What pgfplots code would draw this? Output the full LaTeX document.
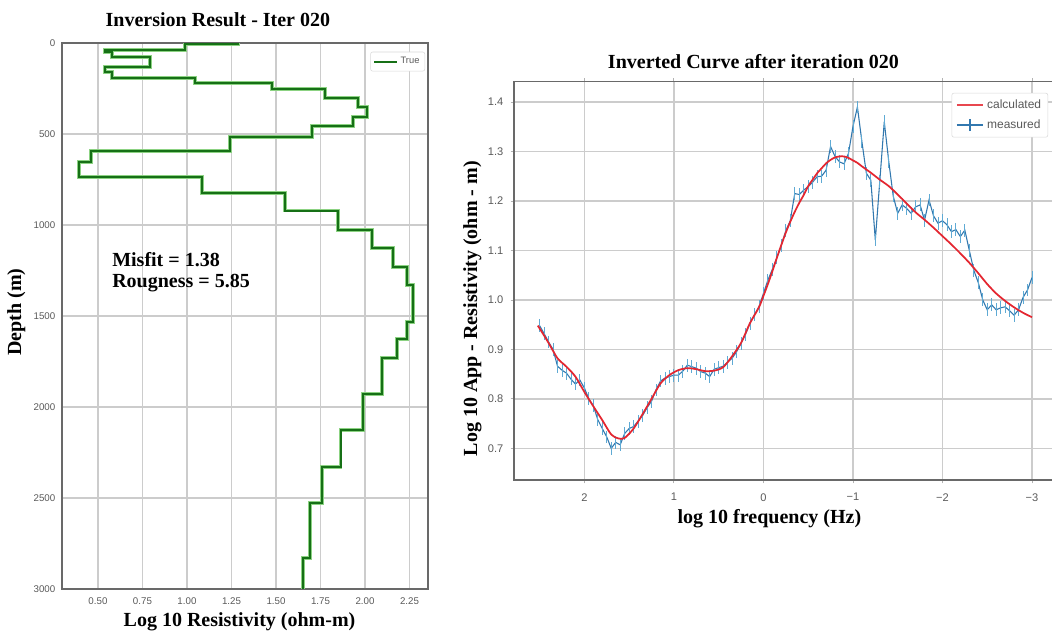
\documentclass[border=0pt]{standalone}
\usepackage{fontspec}
\setmainfont{Liberation Serif}
\setsansfont{Liberation Sans}
\usepackage{pgfplots}
\pgfplotsset{compat=1.18}
\usepackage{pgfplotstable}

\definecolor{stepgreen}{RGB}{22,112,22}
\definecolor{halogreen}{RGB}{140,210,130}
\definecolor{measblue}{RGB}{50,120,175}
\definecolor{errblue}{RGB}{95,170,212}
\definecolor{calcred}{RGB}{228,38,48}
\definecolor{gridgray}{RGB}{204,204,204}
\definecolor{ticktext}{RGB}{90,90,90}
\definecolor{spine}{RGB}{105,105,105}

% layered resistivity model: corner points of the step profile
\pgfplotstableread{
res depth
1.287 0
1.287 7
0.989 7
0.989 38
0.539 38
0.539 50
0.577 50
0.577 75
0.792 75
0.792 130
0.539 130
0.539 158
0.577 158
0.577 194
1.045 194
1.045 218
1.476 218
1.476 254
1.775 254
1.775 301
1.962 301
1.962 350
2.010 350
2.010 405
1.934 405
1.934 456
1.701 456
1.701 515
1.242 515
1.242 593
0.459 593
0.459 655
0.395 655
0.395 735
1.083 735
1.083 826
1.551 826
1.551 921
1.850 921
1.850 1027
2.038 1027
2.038 1128
2.156 1128
2.156 1229
2.234 1229
2.234 1330
2.268 1330
2.268 1531
2.234 1531
2.234 1628
2.181 1628
2.181 1732
2.094 1732
2.094 1929
1.987 1929
1.987 2126
1.863 2126
1.863 2328
1.760 2328
1.760 2529
1.691 2529
1.691 2831
1.653 2831
1.653 3000
}\modeltable

% forward response of the model
\pgfplotstableread{
f rho
2.52 0.948
2.45 0.928
2.40 0.913
2.35 0.897
2.30 0.882
2.25 0.873
2.20 0.865
2.10 0.845
2.00 0.814
1.90 0.785
1.80 0.757
1.70 0.728
1.62 0.720
1.55 0.721
1.45 0.740
1.35 0.769
1.25 0.800
1.15 0.831
1.05 0.848
0.95 0.858
0.85 0.862
0.75 0.860
0.65 0.856
0.55 0.857
0.45 0.864
0.35 0.886
0.25 0.913
0.15 0.953
0.05 0.985
0.00 1.008
-0.05 1.032
-0.10 1.058
-0.15 1.085
-0.20 1.111
-0.25 1.136
-0.30 1.158
-0.35 1.178
-0.40 1.196
-0.45 1.212
-0.50 1.230
-0.55 1.243
-0.60 1.256
-0.65 1.266
-0.70 1.276
-0.75 1.283
-0.80 1.288
-0.85 1.290
-0.90 1.290
-0.95 1.287
-1.00 1.282
-1.05 1.277
-1.10 1.270
-1.20 1.257
-1.30 1.243
-1.40 1.230
-1.50 1.213
-1.60 1.195
-1.70 1.177
-1.80 1.162
-1.90 1.146
-2.00 1.129
-2.10 1.112
-2.20 1.094
-2.30 1.075
-2.40 1.054
-2.50 1.032
-2.60 1.013
-2.70 0.998
-2.80 0.985
-2.90 0.974
-3.00 0.965
}\calctable

% observed apparent resistivity
\pgfplotstableread{
f rho
2.50 0.948
2.45 0.932
2.40 0.915
2.35 0.900
2.30 0.866
2.25 0.858
2.20 0.852
2.15 0.840
2.10 0.830
2.05 0.838
2.00 0.822
1.95 0.800
1.90 0.786
1.85 0.758
1.80 0.740
1.75 0.723
1.70 0.700
1.65 0.712
1.60 0.707
1.55 0.730
1.50 0.740
1.45 0.744
1.40 0.755
1.35 0.766
1.30 0.782
1.25 0.795
1.20 0.818
1.15 0.836
1.10 0.842
1.05 0.845
1.00 0.848
0.95 0.848
0.90 0.856
0.85 0.868
0.80 0.865
0.75 0.862
0.70 0.855
0.65 0.852
0.60 0.845
0.55 0.860
0.50 0.863
0.45 0.866
0.40 0.874
0.35 0.882
0.30 0.895
0.25 0.912
0.20 0.930
0.15 0.953
0.10 0.970
0.05 0.986
0.00 1.013
-0.05 1.040
-0.10 1.062
-0.15 1.085
-0.20 1.110
-0.25 1.140
-0.30 1.160
-0.35 1.215
-0.40 1.213
-0.45 1.222
-0.50 1.229
-0.55 1.238
-0.60 1.249
-0.65 1.250
-0.70 1.262
-0.75 1.310
-0.80 1.290
-0.85 1.279
-0.90 1.275
-0.95 1.296
-1.00 1.350
-1.05 1.390
-1.10 1.320
-1.15 1.256
-1.20 1.242
-1.25 1.121
-1.30 1.240
-1.35 1.360
-1.40 1.280
-1.45 1.210
-1.50 1.175
-1.55 1.192
-1.60 1.185
-1.65 1.175
-1.70 1.188
-1.75 1.192
-1.80 1.161
-1.85 1.202
-1.90 1.170
-1.95 1.155
-2.00 1.160
-2.05 1.152
-2.10 1.138
-2.15 1.142
-2.20 1.128
-2.25 1.141
-2.30 1.100
-2.35 1.060
-2.40 1.035
-2.45 1.000
-2.50 0.980
-2.55 0.990
-2.60 0.980
-2.65 0.984
-2.70 0.986
-2.75 0.978
-2.80 0.969
-2.85 0.980
-2.90 1.005
-2.95 1.020
-3.00 1.045
}\meastable

\pgfplotsset{
  every axis title shift=0pt,
  panel/.style={
    scale only axis,
    anchor=south west,
    grid=major,
    major grid style={draw=gridgray, line width=1pt},
    axis line style={draw=spine, line width=1pt},
    /pgf/number format/assume math mode=true,
    tick label style={text=ticktext},
    title style={font=\bfseries\fontsize{15}{17}\selectfont, anchor=base},
    label style={font=\bfseries\fontsize{15}{17}\selectfont},
    legend cell align=left,
  }
}

\begin{document}
\begin{tikzpicture}
\path[use as bounding box] (0pt,0pt) rectangle (789pt,478.5pt);
\fill[white] (0pt,0pt) rectangle (789pt,478.5pt);

% ---------- resistivity model ----------
\begin{axis}[panel,
  at={(46.5pt,36.75pt)},
  width=274.5pt, height=409.5pt,
  xmin=0.298, xmax=2.354,
  ymin=0, ymax=3000, y dir=reverse,
  major tick length=0pt,
  tick label style={font=\sffamily\fontsize{7.3}{8}\selectfont},
  xticklabel style={yshift=-3pt},
  yticklabel style={xshift=-1.5pt},
  xtick={0.5,0.75,1.0,1.25,1.5,1.75,2.0,2.25},
  xticklabels={0.50,0.75,1.00,1.25,1.50,1.75,2.00,2.25},
  ytick={0,500,1000,1500,2000,2500,3000},
  yticklabels={0,500,1000,1500,2000,2500,3000},
  title={Inversion Result - Iter 020},
  title style={at={(axis description cs:0.426,1.031)}},
  xlabel={Log 10 Resistivity (ohm-m)},
  xlabel style={at={(axis description cs:0.485,-0.0678)}, anchor=base},
  ylabel={Depth (m)},
  ylabel style={at={(axis description cs:-0.112,0.507)}, anchor=base, rotate=0},
  legend style={at={(axis description cs:0.992,0.984)}, anchor=north east,
    draw=gray!30, rounded corners=1.5pt,
    font=\sffamily\fontsize{7}{8}\selectfont, text=ticktext,
    inner sep=2pt, row sep=0pt},
  legend image code/.code={\draw[#1] (0pt,0pt) -- (17pt,0pt);},
]
\addplot[halogreen, line width=2.8pt, forget plot] table[x=res, y=depth] {\modeltable};
\addplot[stepgreen, line width=1.5pt] table[x=res, y=depth] {\modeltable};
\addlegendentry{True}
\node[anchor=base west, inner sep=0pt, font=\bfseries\fontsize{15}{17}\selectfont]
  at (axis cs:0.579,1229) {Misfit = 1.38};
\node[anchor=base west, inner sep=0pt, font=\bfseries\fontsize{15}{17}\selectfont]
  at (axis cs:0.579,1346) {Rougness = 5.85};
\end{axis}

% ---------- apparent resistivity curve ----------
\begin{axis}[panel,
  at={(385.5pt,118.5pt)},
  width=405pt, height=298.7pt,
  xmin=-3.246, xmax=2.786, x dir=reverse,
  ymin=0.636, ymax=1.441,
  tick align=outside, major tick length=2.5pt,
  major tick style={draw=gray!60, line width=0.6pt},
  tick label style={font=\sffamily\fontsize{8.3}{9}\selectfont},
  xticklabel style={yshift=-4pt},
  yticklabel style={xshift=-2pt},
  xtick={2,1,0,-1,-2,-3},
  xticklabels={2,1,0,−1,−2,−3},
  ytick={0.7,0.8,0.9,1.0,1.1,1.2,1.3,1.4},
  yticklabels={0.7,0.8,0.9,1.0,1.1,1.2,1.3,1.4},
  title={Inverted Curve after iteration 020},
  title style={at={(axis description cs:0.4435,1.0344)}},
  xlabel={log 10 frequency (Hz)},
  xlabel style={at={(axis description cs:0.473,-0.108)}, anchor=base},
  ylabel={Log 10 App - Resistivity (ohm - m)},
  ylabel style={at={(axis description cs:-0.0685,0.43)}, anchor=base, rotate=0},
  reverse legend,
  legend style={at={(axis description cs:0.989,0.972)}, anchor=north east,
    draw=gray!30, rounded corners=1.5pt,
    font=\sffamily\fontsize{9}{10}\selectfont, text=ticktext,
    inner sep=3pt, row sep=3pt},
]
\addplot[measblue, line width=0.8pt,
  legend image code/.code={
    \draw[measblue, line width=1.4pt] (0pt,0pt) -- (20pt,0pt);
    \draw[measblue, line width=1.2pt] (10pt,-4.5pt) -- (10pt,4.5pt);},
  error bars/.cd, y dir=both, y fixed=0.013,
  error bar style={errblue, line width=0.6pt}, error mark=none]
  table[x=f, y=rho] {\meastable};
\addlegendentry{measured}
\addplot[calcred, line width=1.3pt, smooth,
  legend image code/.code={
    \draw[calcred!85!white, line width=1.4pt] (0pt,0pt) -- (20pt,0pt);}]
  table[x=f, y=rho] {\calctable};
\addlegendentry{calculated}
\end{axis}
\end{tikzpicture}
\end{document}
